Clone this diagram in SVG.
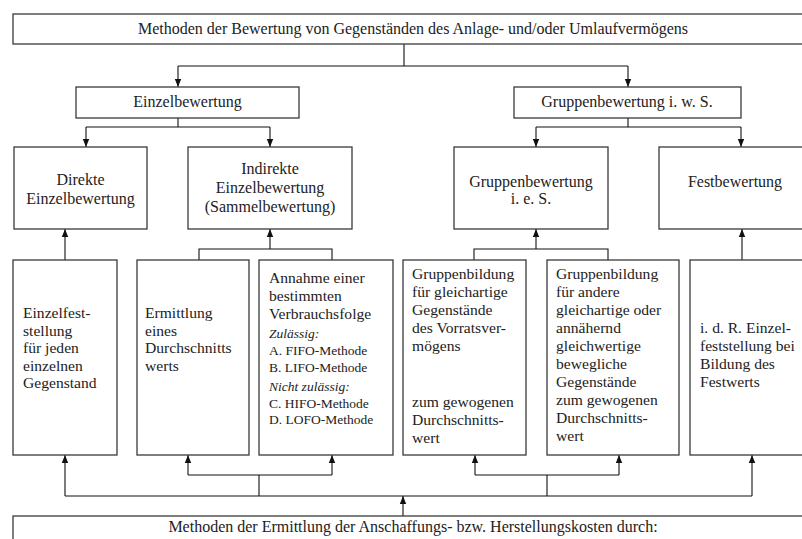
<svg xmlns="http://www.w3.org/2000/svg" width="802" height="539" viewBox="0 0 802 539">
<style>
text{font-family:'Liberation Serif','Tinos','Times New Roman','DejaVu Serif',serif;fill:#222}
.box{fill:#fff;stroke:#3a3a3a;stroke-width:1.3}
.t{font-size:15.6px}
.h{font-size:16px;text-anchor:middle}
.s{font-size:13.5px}
.i{font-style:italic}
.ln{fill:none;stroke:#111;stroke-width:1.1}
</style>
<defs>
<marker id="ah" viewBox="0 0 8 8" refX="8" refY="4" markerWidth="8" markerHeight="8" markerUnits="userSpaceOnUse" orient="auto">
<path d="M0,0.8 L8,4 L0,7.2 Z" fill="#111"/>
</marker>
</defs>
<rect width="802" height="539" fill="#fff"/>
<g id="connectors">
<path class="ln" d="M404,44 V66 M178,66 H628"/>
<path class="ln" d="M178,66 V87" marker-end="url(#ah)"/>
<path class="ln" d="M628,66 V87" marker-end="url(#ah)"/>
<path class="ln" d="M178,118 V127 M86,127 H270 M628,118 V127 M536,127 H741"/>
<path class="ln" d="M86,127 V147" marker-end="url(#ah)"/>
<path class="ln" d="M270,127 V147" marker-end="url(#ah)"/>
<path class="ln" d="M536,127 V147" marker-end="url(#ah)"/>
<path class="ln" d="M741,127 V147" marker-end="url(#ah)"/>
<path class="ln" d="M65,260 V229" marker-end="url(#ah)"/>
<path class="ln" d="M199,260 V249 H332 V260"/>
<path class="ln" d="M270,249 V229" marker-end="url(#ah)"/>
<path class="ln" d="M474,260 V249 H608 V260"/>
<path class="ln" d="M536,249 V229" marker-end="url(#ah)"/>
<path class="ln" d="M742,260 V229" marker-end="url(#ah)"/>
<path class="ln" d="M403,516 V496" marker-end="url(#ah)"/>
<path class="ln" d="M65,496 H752"/>
<path class="ln" d="M65,496 V455" marker-end="url(#ah)"/>
<path class="ln" d="M752,496 V455" marker-end="url(#ah)"/>
<path class="ln" d="M259,496 V475 M188,475 H332 M547,496 V475 M475,475 H619"/>
<path class="ln" d="M188,475 V455" marker-end="url(#ah)"/>
<path class="ln" d="M332,475 V455" marker-end="url(#ah)"/>
<path class="ln" d="M475,475 V455" marker-end="url(#ah)"/>
<path class="ln" d="M619,475 V455" marker-end="url(#ah)"/>
</g>
<g id="top">
<rect class="box" x="13" y="14" width="800" height="30"/>
<text class="h" x="413" y="34">Methoden der Bewertung von Gegenständen des Anlage- und/oder Umlaufvermögens</text>
</g>
<g id="einzelbewertung">
<rect class="box" x="76" y="87" width="223" height="31"/>
<text class="h" x="187.5" y="107">Einzelbewertung</text>
</g>
<g id="gruppenbewertung-iws">
<rect class="box" x="514" y="87" width="227" height="31"/>
<text class="h" x="627" y="107">Gruppenbewertung i. w. S.</text>
</g>
<g id="direkte">
<rect class="box" x="14" y="147" width="133" height="82"/>
<text class="h" x="80.5" y="185">Direkte</text>
<text class="h" x="80.5" y="204">Einzelbewertung</text>
</g>
<g id="indirekte">
<rect class="box" x="188" y="147" width="164" height="82"/>
<text class="h" x="270" y="174">Indirekte</text>
<text class="h" x="270" y="193">Einzelbewertung</text>
<text class="h" x="270" y="212">(Sammelbewertung)</text>
</g>
<g id="gruppenbewertung-ies">
<rect class="box" x="454" y="147" width="154" height="82"/>
<text class="h" x="531" y="187">Gruppenbewertung</text>
<text class="h" x="531" y="204">i. e. S.</text>
</g>
<g id="festbewertung">
<rect class="box" x="659" y="147" width="160" height="82"/>
<text class="h" x="735" y="187">Festbewertung</text>
</g>
<g id="einzelfeststellung">
<rect class="box" x="13" y="260" width="104" height="195"/>
<text class="t" x="23" y="318">Einzelfest-</text>
<text class="t" x="23" y="336">stellung</text>
<text class="t" x="23" y="353">für jeden</text>
<text class="t" x="23" y="371">einzelnen</text>
<text class="t" x="23" y="388">Gegenstand</text>
</g>
<g id="ermittlung">
<rect class="box" x="137" y="260" width="112" height="195"/>
<text class="t" x="145" y="318">Ermittlung</text>
<text class="t" x="145" y="336">eines</text>
<text class="t" x="145" y="353">Durchschnitts</text>
<text class="t" x="145" y="371">werts</text>
</g>
<g id="verbrauchsfolge">
<rect class="box" x="259" y="260" width="134" height="195"/>
<text class="t" x="269" y="283">Annahme einer</text>
<text class="t" x="269" y="301">bestimmten</text>
<text class="t" x="269" y="319">Verbrauchsfolge</text>
<text class="s i" x="269" y="338">Zulässig:</text>
<text class="s" x="269" y="355">A. FIFO-Methode</text>
<text class="s" x="269" y="372">B. LIFO-Methode</text>
<text class="s i" x="269" y="391">Nicht zulässig:</text>
<text class="s" x="269" y="408">C. HIFO-Methode</text>
<text class="s" x="269" y="424">D. LOFO-Methode</text>
</g>
<g id="gruppenbildung-vorrat">
<rect class="box" x="403" y="260" width="123" height="195"/>
<text class="t" x="412" y="279">Gruppenbildung</text>
<text class="t" x="412" y="297">für gleichartige</text>
<text class="t" x="412" y="315">Gegenstände</text>
<text class="t" x="412" y="333">des Vorratsver-</text>
<text class="t" x="412" y="351">mögens</text>
<text class="t" x="412" y="407">zum gewogenen</text>
<text class="t" x="412" y="425">Durchschnitts-</text>
<text class="t" x="412" y="443">wert</text>
</g>
<g id="gruppenbildung-andere">
<rect class="box" x="547" y="260" width="132" height="195"/>
<text class="t" x="556" y="279">Gruppenbildung</text>
<text class="t" x="556" y="297">für andere</text>
<text class="t" x="556" y="315">gleichartige oder</text>
<text class="t" x="556" y="333">annähernd</text>
<text class="t" x="556" y="351">gleichwertige</text>
<text class="t" x="556" y="369">bewegliche</text>
<text class="t" x="556" y="387">Gegenstände</text>
<text class="t" x="556" y="405">zum gewogenen</text>
<text class="t" x="556" y="423">Durchschnitts-</text>
<text class="t" x="556" y="441">wert</text>
</g>
<g id="festwert">
<rect class="box" x="690" y="260" width="130" height="195"/>
<text class="t" x="700" y="333">i. d. R. Einzel-</text>
<text class="t" x="700" y="351">feststellung bei</text>
<text class="t" x="700" y="369">Bildung des</text>
<text class="t" x="700" y="387">Festwerts</text>
</g>
<g id="bottom">
<rect class="box" x="13" y="516" width="800" height="40"/>
<text class="h" x="413" y="532">Methoden der Ermittlung der Anschaffungs- bzw. Herstellungskosten durch:</text>
</g>
</svg>
